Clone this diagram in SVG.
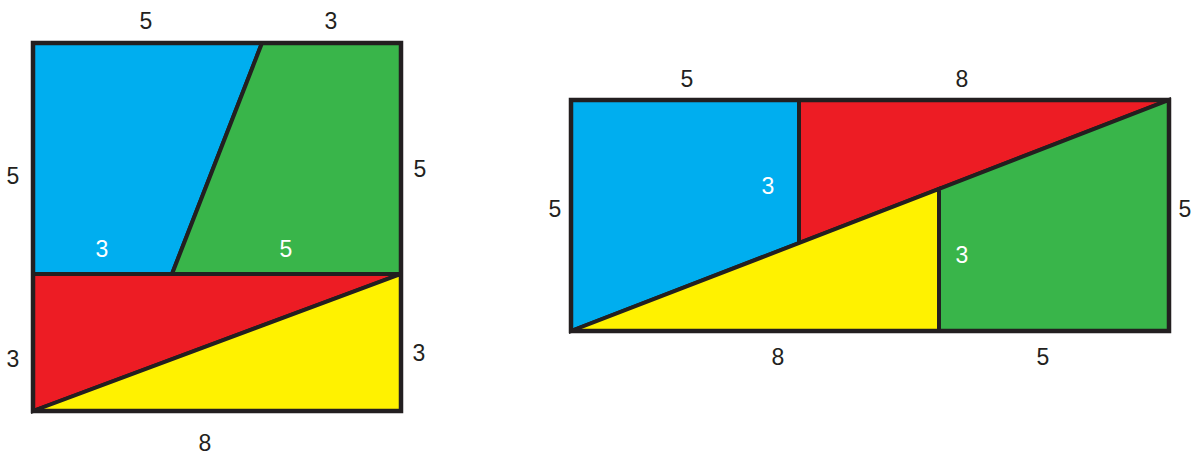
<svg xmlns="http://www.w3.org/2000/svg" width="1192" height="455" viewBox="0 0 1192 455">
<style>
.p{stroke:#231F20;stroke-width:4;stroke-linejoin:miter}
.frame{fill:none;stroke:#231F20;stroke-width:4.5}
.b{fill:#00AEEF}.g{fill:#39B54A}.r{fill:#ED1C24}.y{fill:#FFF200}
text{font-family:"Liberation Sans",Arial,sans-serif;font-size:23px;text-anchor:middle;fill:#231F20}
text.w{fill:#FFFFFF}
</style>
<rect width="1192" height="455" fill="#FFFFFF"/>
<g id="square">
  <g id="sq-blue"><polygon class="p b" points="33,43 262,43 172,274 33,274"/></g>
  <g id="sq-green"><polygon class="p g" points="262,43 401,43 401,274 172,274"/></g>
  <g id="sq-red"><polygon class="p r" points="33,274 401,274 33,411"/></g>
  <g id="sq-yellow"><polygon class="p y" points="401,274 401,411 33,411"/></g>
  <rect class="frame" x="33" y="43" width="368" height="368"/>
</g>
<g id="rectangle">
  <g id="re-blue"><polygon class="p b" points="571,100 799,100 799,243 571,331"/></g>
  <g id="re-red"><polygon class="p r" points="799,100 1169,100 799,243"/></g>
  <g id="re-yellow"><polygon class="p y" points="571,331 939,189 939,331"/></g>
  <g id="re-green"><polygon class="p g" points="939,189 1169,100 1169,331 939,331"/></g>
  <rect class="frame" x="571" y="100" width="598" height="231"/>
</g>
<g id="labels">
  <text x="146" y="28.5">5</text>
  <text x="331" y="28.5">3</text>
  <text x="13" y="183.5">5</text>
  <text x="420" y="176.5">5</text>
  <text class="w" x="102" y="256.5">3</text>
  <text class="w" x="286" y="256.5">5</text>
  <text x="13" y="366.5">3</text>
  <text x="419" y="360.5">3</text>
  <text x="205" y="450.5">8</text>
  <text x="687" y="86.5">5</text>
  <text x="962" y="86.5">8</text>
  <text x="555" y="216.5">5</text>
  <text x="1185" y="216.5">5</text>
  <text class="w" x="768" y="193.5">3</text>
  <text class="w" x="962" y="262.5">3</text>
  <text x="778" y="364.5">8</text>
  <text x="1043" y="364.5">5</text>
</g>
</svg>
